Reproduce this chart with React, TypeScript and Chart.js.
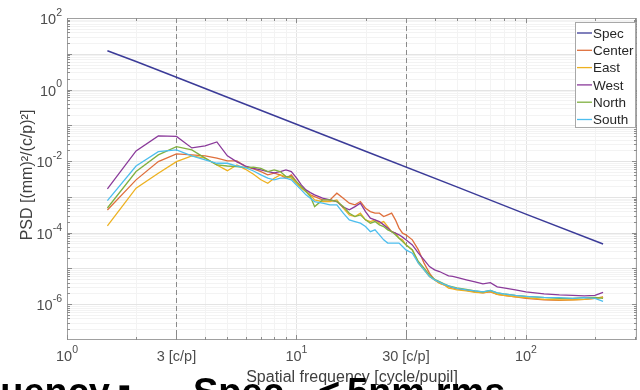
import React, { useEffect, useRef } from 'react';
import { Chart, registerables } from 'chart.js';

Chart.register(...registerables);

const FONT = '"Liberation Sans", Arial, Helvetica, sans-serif';

// ---------- data ----------
const seriesNames = ['Spec', 'Center', 'East', 'West', 'North', 'South'];
const seriesColors = ['#3b3b98', '#df6f3c', '#edb120', '#8a3a9a', '#80b040', '#4dbeee'];

const specFreqs = [1.5, 2, 3, 5, 10, 20, 50, 100, 217];
const specValues = [12.2, 6.1, 2.2, 0.61, 0.107, 0.0189, 1.9e-3, 3.3e-4, 4.8e-5];

const freqs = [
  1.5, 2, 2.5, 3, 3.5, 4, 4.5, 5, 5.5, 6,
  6.5, 7, 7.5, 8, 8.5, 9, 9.5, 10,
  10.5, 11, 11.5, 12,
  13, 14, 15, 16, 17, 18, 19, 20, 21, 22, 23, 24, 25, 26, 27, 28, 29, 30,
  32, 34, 36, 38, 40, 42, 44, 46, 48, 50,
  55, 60, 65, 70, 75, 80, 90, 100,
  120, 140, 160, 180, 200, 217,
];

const centerValues = [
  4.3e-4, 2.99e-3, 9.7e-3, 1.59e-2, 1.49e-2, 1.4e-2, 1.21e-2, 1.01e-2, 1.01e-2, 7.0e-3,
  6.05e-3, 5.1e-3, 4.12e-3, 4.6e-3, 4.12e-3, 3.33e-3, 4.12e-3, 2.67e-3,
  1.94e-3, 1.41e-3, 1.14e-3, 1.02e-3,
  8.2e-4, 8.2e-4, 1.27e-3, 9.2e-4, 6.67e-4, 6.0e-4, 7.4e-4, 4.83e-4, 3.88e-4, 3.5e-4, 3.5e-4, 2.82e-4, 3.14e-4, 3.5e-4, 2.28e-4, 1.34e-4, 9.7e-5, 8.7e-5,
  6.3e-5, 3.3e-5, 1.41e-5, 7.4e-6, 4.8e-6, 3.88e-6, 3.48e-6, 3.12e-6, 2.87e-6, 2.69e-6,
  2.44e-6, 2.22e-6, 2.08e-6, 2.22e-6, 1.89e-6, 1.77e-6, 1.61e-6, 1.46e-6,
  1.33e-6, 1.28e-6, 1.33e-6, 1.37e-6, 1.46e-6, 1.61e-6,
];

const eastValues = [
  1.55e-4, 1.75e-3, 4.6e-3, 9.7e-3, 1.4e-2, 1.21e-2, 7.8e-3, 5.4e-3, 7.8e-3, 5.9e-3,
  4.3e-3, 3.0e-3, 2.41e-3, 3.33e-3, 4.12e-3, 3.69e-3, 3.33e-3, 2.41e-3,
  1.75e-3, 1.41e-3, 1.14e-3, 8.2e-4,
  7.4e-4, 7.4e-4, 8.2e-4, 4.83e-4, 3.14e-4, 2.82e-4, 3.5e-4, 2.28e-4, 2.04e-4, 2.28e-4, 1.84e-4, 2.04e-4, 1.48e-4, 1.07e-4, 9.7e-5, 7.0e-5, 6.3e-5, 4.56e-5,
  3.3e-5, 1.41e-5, 9.1e-6, 5.94e-6, 4.8e-6, 3.88e-6, 3.48e-6, 2.82e-6, 2.69e-6, 2.52e-6,
  2.37e-6, 2.15e-6, 2.08e-6, 2.29e-6, 1.89e-6, 1.77e-6, 1.61e-6, 1.52e-6,
  1.37e-6, 1.33e-6, 1.33e-6, 1.37e-6, 1.46e-6, 1.56e-6,
];

const westValues = [
  1.67e-3, 1.93e-2, 5.06e-2, 4.9e-2, 2.34e-2, 2.66e-2, 3.44e-2, 1.4e-2, 9.5e-3, 7.3e-3,
  6.25e-3, 5.7e-3, 5.1e-3, 4.7e-3, 5.1e-3, 5.7e-3, 5.1e-3, 3.4e-3,
  2.16e-3, 1.57e-3, 1.32e-3, 1.14e-3,
  9.2e-4, 8.2e-4, 7.4e-4, 5.15e-4, 4.33e-4, 5.36e-4, 6.67e-4, 3.88e-4, 2.54e-4, 2.28e-4, 2.04e-4, 1.65e-4, 1.34e-4, 1.07e-4, 9.7e-5, 8.7e-5, 7.5e-5, 6.3e-5,
  4.56e-5, 2.67e-5, 1.74e-5, 1.13e-5, 9.1e-6, 8.2e-6, 7.1e-6, 6.2e-6, 6.0e-6, 5.6e-6,
  4.8e-6, 4.2e-6, 3.7e-6, 4.0e-6, 3.06e-6, 2.87e-6, 2.52e-6, 2.22e-6,
  1.95e-6, 1.83e-6, 1.77e-6, 1.72e-6, 1.77e-6, 2.15e-6,
];

const northValues = [
  4.9e-4, 5.1e-3, 1.49e-2, 2.54e-2, 2.06e-2, 1.21e-2, 7.8e-3, 7.3e-3, 7.0e-3, 6.6e-3,
  6.8e-3, 6.3e-3, 5.1e-3, 5.7e-3, 5.1e-3, 3.69e-3, 3.69e-3, 2.67e-3,
  1.94e-3, 1.41e-3, 1.02e-3, 5.36e-4,
  8.2e-4, 8.2e-4, 7.4e-4, 5.36e-4, 3.5e-4, 2.82e-4, 3.14e-4, 2.28e-4, 1.84e-4, 2.04e-4, 1.65e-4, 1.48e-4, 1.2e-4, 1.07e-4, 8.7e-5, 7.0e-5, 5.64e-5, 4.56e-5,
  3.3e-5, 1.56e-5, 1.02e-5, 6.6e-6, 5.0e-6, 4.3e-6, 3.7e-6, 3.27e-6, 3.06e-6, 2.87e-6,
  2.6e-6, 2.37e-6, 2.22e-6, 2.44e-6, 2.08e-6, 1.95e-6, 1.77e-6, 1.66e-6,
  1.52e-6, 1.46e-6, 1.46e-6, 1.52e-6, 1.56e-6, 1.46e-6,
];

const southValues = [
  7.9e-4, 7.3e-3, 1.84e-2, 2.06e-2, 1.4e-2, 1.08e-2, 8.7e-3, 8.7e-3, 7.3e-3, 6.6e-3,
  5.3e-3, 4.12e-3, 3.33e-3, 3.0e-3, 3.33e-3, 3.33e-3, 3.0e-3, 2.16e-3,
  1.57e-3, 1.14e-3, 9.2e-4, 7.4e-4,
  6.67e-4, 6.0e-4, 6.0e-4, 3.5e-4, 2.28e-4, 2.04e-4, 1.84e-4, 1.48e-4, 1.07e-4, 1.2e-4, 8.7e-5, 6.3e-5, 5.1e-5, 5.1e-5, 5.1e-5, 5.1e-5, 4.1e-5, 3.3e-5,
  2.67e-5, 1.41e-5, 9.1e-6, 5.94e-6, 4.8e-6, 4.14e-6, 3.6e-6, 3.27e-6, 2.97e-6, 2.78e-6,
  2.52e-6, 2.37e-6, 2.22e-6, 2.44e-6, 2.08e-6, 1.95e-6, 1.77e-6, 1.66e-6,
  1.56e-6, 1.52e-6, 1.46e-6, 1.52e-6, 1.46e-6, 1.2e-6,
];

const refLines = [3, 30];
const xTickValues = [1, 3, 10, 30, 100];
const xTickLabels = ['10^0', '3 [c/p]', '10^1', '30 [c/p]', '10^2'];
const yTickValues = [1e2, 1e0, 1e-2, 1e-4, 1e-6];
const yTickLabels = ['10^2', '10^0', '10^-2', '10^-4', '10^-6'];
const xTitle = 'Spatial frequency [cycle/pupil]';
const yTitle = 'PSD [(mm)\u00b2/(c/p)\u00b2]';

const X_MIN = 1;
const X_MAX = 305;
const Y_MIN = 1e-7;
const Y_MAX = 1e2;

// ---------- helpers ----------
function minorValues(min: number, max: number): { v: number; major: boolean }[] {
  const out: { v: number; major: boolean }[] = [];
  const e0 = Math.floor(Math.log10(min));
  const e1 = Math.ceil(Math.log10(max));
  for (let e = e0; e <= e1; e++) {
    for (let k = 1; k <= 9; k++) {
      const v = k * Math.pow(10, e);
      if (v >= min * 0.9999 && v <= max * 1.0001) out.push({ v, major: k === 1 });
    }
  }
  return out;
}

function drawLabel(ctx: CanvasRenderingContext2D, label: string, x: number, y: number, align: 'right' | 'center') {
  const basePx = 14.5;
  const supPx = 10.5;
  const parts = label.split('^');
  const base = parts[0];
  const exp = parts[1] || '';
  ctx.font = `${basePx}px ${FONT}`;
  const bw = ctx.measureText(base).width;
  ctx.font = `${supPx}px ${FONT}`;
  const ew = exp ? ctx.measureText(exp).width : 0;
  const total = bw + ew;
  const left = align === 'right' ? x - total : x - total / 2;
  ctx.textAlign = 'left';
  ctx.textBaseline = 'middle';
  ctx.font = `${basePx}px ${FONT}`;
  ctx.fillText(base, left, y);
  if (exp) {
    ctx.font = `${supPx}px ${FONT}`;
    ctx.fillText(exp, left + bw, y - 7);
  }
}

const matlabPlugin = {
  id: 'matlabAxes',
  beforeDatasetsDraw(chart: any) {
    const { ctx, chartArea: a, scales } = chart;
    const xs = scales.x;
    const ys = scales.y;
    ctx.save();
    ctx.lineWidth = 1;
    for (const g of minorValues(X_MIN, X_MAX)) {
      const x = Math.round(xs.getPixelForValue(g.v)) + 0.5;
      if (x < a.left + 1 || x > a.right - 1) continue;
      ctx.strokeStyle = g.major ? '#e4e4e4' : '#f3f3f3';
      ctx.beginPath();
      ctx.moveTo(x, a.top);
      ctx.lineTo(x, a.bottom);
      ctx.stroke();
    }
    for (const g of minorValues(Y_MIN, Y_MAX)) {
      const y = Math.round(ys.getPixelForValue(g.v)) + 0.5;
      if (y < a.top + 1 || y > a.bottom - 1) continue;
      ctx.strokeStyle = g.major ? '#e4e4e4' : '#f3f3f3';
      ctx.beginPath();
      ctx.moveTo(a.left, y);
      ctx.lineTo(a.right, y);
      ctx.stroke();
    }
    ctx.strokeStyle = '#8a8a8a';
    ctx.setLineDash([5, 3]);
    for (const f of refLines) {
      const x = Math.round(xs.getPixelForValue(f)) + 0.5;
      ctx.beginPath();
      ctx.moveTo(x, a.top);
      ctx.lineTo(x, a.bottom);
      ctx.stroke();
    }
    ctx.restore();
  },
  afterDraw(chart: any) {
    const { ctx, chartArea: a, scales } = chart;
    const xs = scales.x;
    const ys = scales.y;
    ctx.save();
    ctx.strokeStyle = '#a0a0a0';
    ctx.lineWidth = 1;
    ctx.strokeRect(a.left + 0.5, a.top + 0.5, a.right - a.left - 1, a.bottom - a.top - 1);
    ctx.strokeStyle = '#8c8c8c';
    for (const g of minorValues(X_MIN, X_MAX)) {
      const x = Math.round(xs.getPixelForValue(g.v)) + 0.5;
      if (x < a.left + 1 || x > a.right - 1) continue;
      const len = g.major ? 5 : 3;
      ctx.beginPath();
      ctx.moveTo(x, a.bottom);
      ctx.lineTo(x, a.bottom - len);
      ctx.moveTo(x, a.top);
      ctx.lineTo(x, a.top + len);
      ctx.stroke();
    }
    for (const v of xTickValues) {
      const x = Math.round(xs.getPixelForValue(v)) + 0.5;
      ctx.beginPath();
      ctx.moveTo(x, a.bottom);
      ctx.lineTo(x, a.bottom - 5);
      ctx.moveTo(x, a.top);
      ctx.lineTo(x, a.top + 5);
      ctx.stroke();
    }
    for (const g of minorValues(Y_MIN, Y_MAX)) {
      const y = Math.round(ys.getPixelForValue(g.v)) + 0.5;
      if (y < a.top + 1 || y > a.bottom - 1) continue;
      const len = g.major ? 5 : 3;
      ctx.beginPath();
      ctx.moveTo(a.left, y);
      ctx.lineTo(a.left + len, y);
      ctx.moveTo(a.right, y);
      ctx.lineTo(a.right - len, y);
      ctx.stroke();
    }
    ctx.fillStyle = '#4d4d4d';
    xTickValues.forEach((v, i) => {
      drawLabel(ctx, xTickLabels[i], xs.getPixelForValue(v), a.bottom + 17, 'center');
    });
    yTickValues.forEach((v, i) => {
      drawLabel(ctx, yTickLabels[i], a.left - 5, ys.getPixelForValue(v) + 2, 'right');
    });
    ctx.font = `16px ${FONT}`;
    ctx.textAlign = 'center';
    ctx.textBaseline = 'middle';
    ctx.fillStyle = '#404040';
    ctx.fillText(xTitle, (a.left + a.right) / 2, a.bottom + 38);
    ctx.save();
    ctx.translate(28, (a.top + a.bottom) / 2 - 4);
    ctx.rotate(-Math.PI / 2);
    ctx.fillText(yTitle, 0, 0);
    ctx.restore();
    const lx = 575.5;
    const ly = 22.5;
    const lw = 60;
    const lh = 105;
    ctx.fillStyle = '#ffffff';
    ctx.fillRect(lx, ly, lw, lh);
    ctx.strokeStyle = '#a8a8a8';
    ctx.strokeRect(lx, ly, lw, lh);
    ctx.font = `13.5px ${FONT}`;
    ctx.textAlign = 'left';
    ctx.textBaseline = 'middle';
    chart.data.datasets.forEach((ds: any, i: number) => {
      const y = 33 + i * 17.3;
      ctx.strokeStyle = ds.borderColor;
      ctx.lineWidth = 1.3;
      ctx.beginPath();
      ctx.moveTo(577, y);
      ctx.lineTo(592, y);
      ctx.stroke();
      ctx.fillStyle = '#262626';
      ctx.fillText(ds.label, 593, y + 1);
    });
    ctx.restore();
  },
};

export default function App() {
  const ref = useRef<HTMLCanvasElement>(null);

  useEffect(() => {
    const series = [specValues, centerValues, eastValues, westValues, northValues, southValues];
    const datasets = series.map((vals, i) => {
      const fx = i === 0 ? specFreqs : freqs;
      return {
        label: seriesNames[i],
        data: vals.map((v, j) => ({ x: fx[j], y: v })),
        borderColor: seriesColors[i],
        backgroundColor: seriesColors[i],
        borderWidth: i === 0 ? 1.5 : 1.3,
        pointRadius: 0,
        tension: 0,
        fill: false,
        order: 10 - i,
      };
    });
    const chart = new Chart(ref.current as HTMLCanvasElement, {
      type: 'line',
      data: { datasets },
      options: {
        responsive: false,
        animation: false,
        devicePixelRatio: 1,
        layout: { padding: { top: 18, right: 3, left: 0, bottom: 0 } },
        plugins: { legend: { display: false }, tooltip: { enabled: false } },
        scales: {
          x: {
            type: 'logarithmic',
            min: X_MIN,
            max: X_MAX,
            grid: { display: false },
            border: { display: false },
            ticks: { display: false },
            afterFit: (s: any) => {
              s.height = 50;
            },
          },
          y: {
            type: 'logarithmic',
            min: Y_MIN,
            max: Y_MAX,
            grid: { display: false },
            border: { display: false },
            ticks: { display: false },
            afterFit: (s: any) => {
              s.width = 67;
            },
          },
        },
      } as any,
      plugins: [matlabPlugin],
    });
    return () => chart.destroy();
  }, []);

  const big: React.CSSProperties = {
    position: 'absolute',
    top: 373,
    whiteSpace: 'nowrap',
    font: `bold 38px ${FONT}`,
    lineHeight: '38px',
    color: '#000',
  };

  return (
    <div style={{ position: 'fixed', left: 0, top: 0, width: 640, height: 390, overflow: 'hidden', background: '#fff' }}>
      <canvas ref={ref} width={640} height={390} style={{ display: 'block', width: 640, height: 390 }} />
      <div style={{ position: 'absolute', left: 0, top: 0, width: 640, height: 390, pointerEvents: 'none' }}>
        <span style={{ ...big, right: 530 }}>Frequency</span>
        <span style={{ ...big, left: 118, top: 366 }}>-</span>
        <span style={{ ...big, left: 193 }}>Spec</span>
        <span style={{ ...big, left: 318 }}>&lt;</span>
        <span style={{ ...big, left: 347 }}>5nm rms</span>
      </div>
    </div>
  );
}
